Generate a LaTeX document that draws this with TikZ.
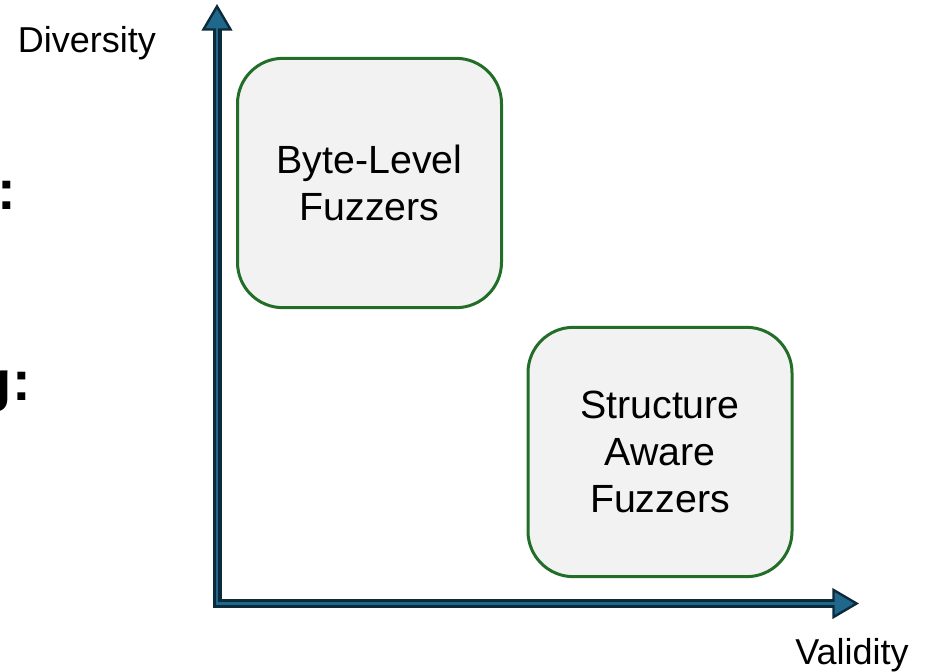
\documentclass[tikz,border=0pt]{standalone}
\usepackage{fontspec}
\setmainfont{Liberation Sans}
\usepackage{xcolor}
\usepackage{tikz}
\usetikzlibrary{arrows.meta, positioning}
\definecolor{axisdark}{RGB}{12,42,58}
\definecolor{axisblue}{RGB}{31,104,140}
\definecolor{fuzzgreen}{RGB}{34,110,40}
\definecolor{fuzzfill}{RGB}{242,242,242}

\begin{document}
\begin{tikzpicture}[
    x=0.75pt, y=-0.75pt,
    fuzzbox/.style={draw=fuzzgreen, line width=2.25pt, fill=fuzzfill, rounded corners=34pt, minimum width=198pt, minimum height=187pt, align=center, font=\fontsize{29.5}{35.25}\selectfont},
    axisline/.style={draw=axisdark, line width=6.75pt, line join=miter,
        {Triangle[length=20pt, width=23pt, line width=1.8pt, fill=axisblue]}-{Triangle[length=20pt, width=23pt, line width=1.8pt, fill=axisblue]}},
    axiscore/.style={draw=axisblue, line width=2.2pt, line join=miter, shorten <=14pt, shorten >=14pt},
    axislabel/.style={font=\fontsize{27}{32}\selectfont, inner sep=0pt, anchor=base}
]
    \useasboundingbox (0,0) rectangle (926,672);
    \clip (0,0) rectangle (926,672);

    % Leftover slide text
    \node[font=\fontsize{42}{50}\selectfont\bfseries, inner sep=0pt, anchor=base east] (lineone) at (16,209) {:};
    \node[font=\fontsize{42}{50}\selectfont\bfseries, inner sep=0pt, anchor=base east] (linetwo) at (31,400) {g:};

    % Axes
    \coordinate (origin) at (217,603.5);
    \coordinate (ytip) at (217,4);
    \coordinate (xtip) at (859,603.5);
    \draw[axisline] (ytip) -- (origin) -- (xtip);
    \draw[axiscore] (ytip) -- (origin) -- (xtip);

    % Axis labels
    \node[axislabel] (diversity) at (87,52) {Diversity};
    \node[axislabel] (validity) at (852,664) {Validity};

    % Fuzzer families
    \node[fuzzbox] (bytelevel) at (369.5,183) {Byte-Level\\Fuzzers};
    \node[fuzzbox] (structaware) at (660,452) {Structure\\Aware\\Fuzzers};
\end{tikzpicture}
\end{document}
